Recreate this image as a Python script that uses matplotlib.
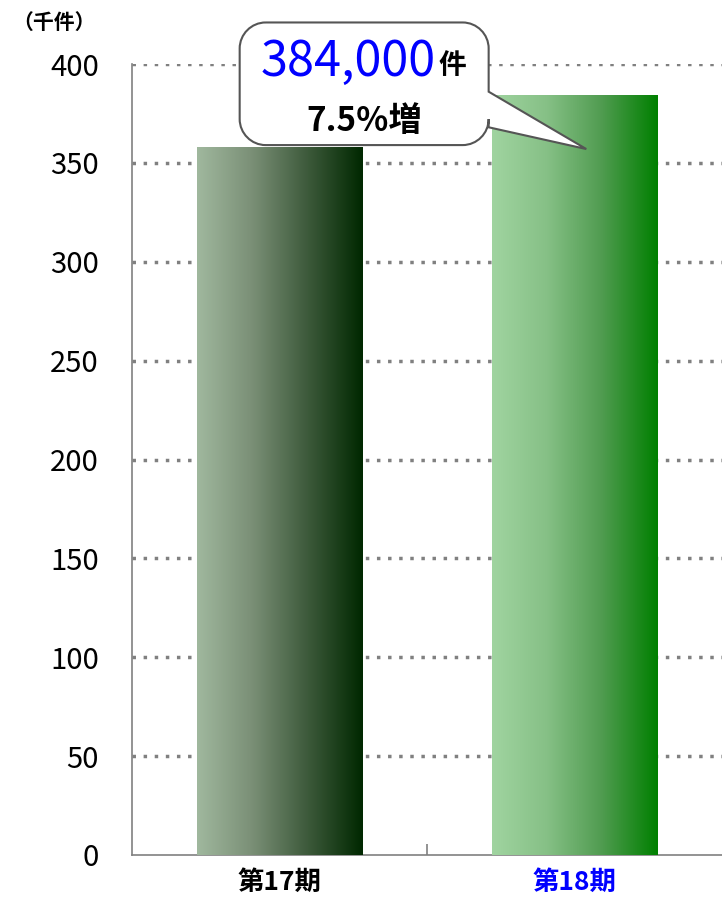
import matplotlib
matplotlib.use("Agg")
import matplotlib.pyplot as plt
import numpy as np
from matplotlib.path import Path
from matplotlib.patches import PathPatch
from matplotlib.colors import LinearSegmentedColormap
from matplotlib.transforms import IdentityTransform

plt.rcParams["font.family"] = ["Noto Sans CJK JP", "DejaVu Sans"]

# data
periods = ["第17期", "第18期"]
counts = [358, 384]          # thousand cases
label_colors = ["black", "#0000ff"]
callout_value = "384,000"
callout_unit = "件"
callout_growth = "7.5%増"
unit_label = "（千件）"
yticks = [0, 50, 100, 150, 200, 250, 300, 350, 400]

bar_cmaps = [
    LinearSegmentedColormap.from_list("g17", ["#a0b89e", "#7a8f76", "#3d5a3b", "#002800"]),
    LinearSegmentedColormap.from_list("g18", ["#a0d4a0", "#86c086", "#4f9b4f", "#008000"]),
]

fig = plt.figure(figsize=(7.22, 8.99), dpi=100)
ax = fig.add_axes([132 / 722, 44 / 899, 590 / 722, 791 / 899])

width = 0.56
grad = np.linspace(0, 1, 256).reshape(1, -1)
for i, (v, cm) in enumerate(zip(counts, bar_cmaps)):
    ax.imshow(grad, cmap=cm, aspect="auto",
              extent=[i - width / 2, i + width / 2, 0, v], zorder=3)
ax.set_xlim(-0.5, 1.5)
ax.set_ylim(0, 400)

for y in yticks[1:]:
    ax.axhline(y, color="#808080", lw=2.5, ls=(0, (1, 2.2)), zorder=1)

for s in ["top", "right"]:
    ax.spines[s].set_visible(False)
for s in ["left", "bottom"]:
    ax.spines[s].set_color("#808080")
    ax.spines[s].set_linewidth(1.2)

ax.set_yticks(yticks)
ax.set_yticklabels([str(t) for t in yticks], fontsize=21)
ax.tick_params(axis="y", length=0, pad=24)
ax.set_xticks([0.5])
ax.set_xticklabels([""])
ax.tick_params(axis="x", direction="in", length=8, color="#808080", width=1.2)
for i, (p, c) in enumerate(zip(periods, label_colors)):
    ax.text(i, -14, p, ha="center", va="center", fontsize=19, fontweight="bold",
            color=c, transform=ax.transData)

fig.text(12 / 722, 1 - 22 / 899, unit_label, fontsize=15, fontweight="bold",
         va="center", ha="left")

# callout bubble, drawn in display space
fig.canvas.draw()
T = ax.transData.transform
x0, y1 = T((-0.135, 421))
x1, y0 = T((0.709, 359))
_, ta = T((0, 386))
_, tb = T((0, 368))
tip = T((1.04, counts[1] - 27))
r = 26
k = 0.45
verts = [
    (x0 + r, y1), (x1 - r, y1),
    (x1 - r * k, y1), (x1, y1 - r * k), (x1, y1 - r),
    (x1, ta), tuple(tip), (x1, tb),
    (x1, y0 + r),
    (x1, y0 + r * k), (x1 - r * k, y0), (x1 - r, y0),
    (x0 + r, y0),
    (x0 + r * k, y0), (x0, y0 + r * k), (x0, y0 + r),
    (x0, y1 - r),
    (x0, y1 - r * k), (x0 + r * k, y1), (x0 + r, y1),
]
codes = [Path.MOVETO, Path.LINETO,
         Path.CURVE4, Path.CURVE4, Path.CURVE4,
         Path.LINETO, Path.LINETO, Path.LINETO,
         Path.LINETO,
         Path.CURVE4, Path.CURVE4, Path.CURVE4,
         Path.LINETO,
         Path.CURVE4, Path.CURVE4, Path.CURVE4,
         Path.LINETO,
         Path.CURVE4, Path.CURVE4, Path.CURVE4]
bubble = PathPatch(Path(verts, codes), facecolor="white", edgecolor="#555555",
                   lw=1.5, transform=IdentityTransform(), zorder=10)
fig.patches.append(bubble)

inv = fig.transFigure.inverted()
cx = 0.5 * (x0 + x1)
vx, vy = inv.transform((cx + 72, y1 - 40))
fig.text(vx, vy, callout_value, fontsize=35, color="#0000ff",
         ha="right", va="center", zorder=11)
ux, uy = inv.transform((cx + 74, y1 - 44))
fig.text(ux, uy, callout_unit, fontsize=20, fontweight="bold", ha="left",
         va="center", zorder=11)
gx, gy = inv.transform((cx, y0 + 24))
fig.text(gx, gy, callout_growth, fontsize=24, fontweight="bold", ha="center",
         va="center", zorder=11)

fig.savefig("out.png", dpi=100)
